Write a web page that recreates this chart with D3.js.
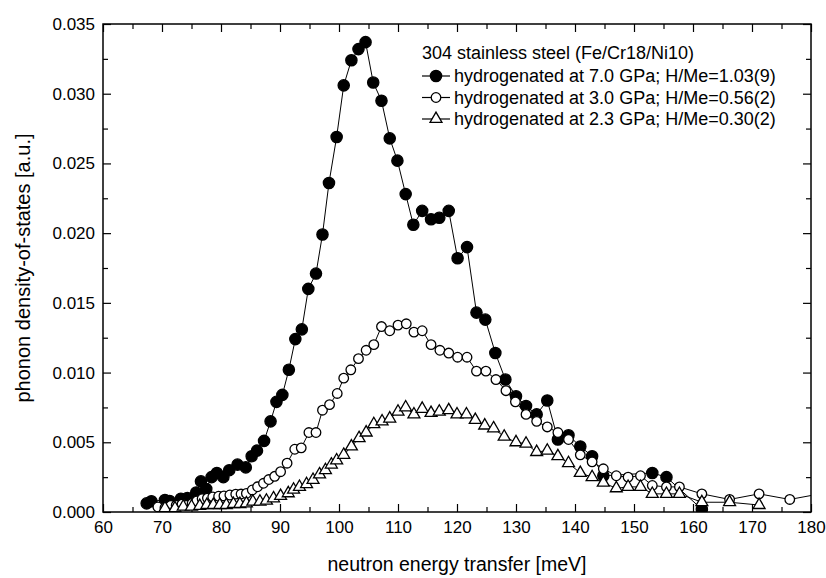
<!DOCTYPE html>
<html>
<head>
  <meta charset="utf-8">
  <title>Phonon density of states - 304 stainless steel</title>
  <script src="https://d3js.org/d3.v7.min.js"></script>
  <style>
    body { margin: 0; background: #fff; }
    text { font-family: "Liberation Sans", Arial, sans-serif; fill: #000; }
  </style>
</head>
<body>
  <div id="chart"></div>

  <script>
    // Sample hydrogenated at 7.0 GPa (filled circles)
    const energy7 = [67.4, 68.2, 70.5, 71.3, 73.2, 74.3, 75.8, 76.6, 77.5, 78.4, 79.3, 80.4, 81.4, 82.8, 84.2, 85.2,
      86.1, 87.3, 88.4, 89.4, 90.4, 91.5, 92.6, 93.7, 94.8, 96.1, 97.2, 98.3, 99.6, 100.8, 102.1, 103.3, 104.5,
      105.8, 107.2, 108.6, 109.9, 111.3, 112.6, 114.1, 115.6, 117.0, 118.6, 120.1, 121.7, 123.3, 124.8, 126.5,
      128.2, 130.0, 131.7, 133.5, 135.3, 137.1, 138.9, 140.9, 142.9, 144.8, 153.1, 155.5, 161.5];
    const dos7 = [0.00062, 0.00077, 0.00086, 0.00079, 0.00095, 0.0010, 0.0014, 0.0022, 0.00165, 0.0025, 0.0028, 0.0025,
      0.0030, 0.0034, 0.0032, 0.0040, 0.0044, 0.0051, 0.0065, 0.0079, 0.0084, 0.0102, 0.0124, 0.0131, 0.0160, 0.0171,
      0.0199, 0.0236, 0.0269, 0.0306, 0.0324, 0.0332, 0.0337, 0.0308, 0.0295, 0.0268, 0.0252, 0.0228, 0.0206, 0.0216,
      0.0210, 0.0211, 0.0216, 0.0182, 0.0190, 0.0143, 0.0138, 0.0114, 0.0095, 0.0083, 0.0076, 0.0070, 0.0080, 0.0052,
      0.0055, 0.0047, 0.0040, 0.0026, 0.0028, 0.0025, 0.0002];

    // Sample hydrogenated at 3.0 GPa (open circles)
    const energy3 = [69.3, 70.5, 71.5, 72.4, 73.4, 74.2, 75.1, 75.9, 76.8, 77.7, 78.6, 79.6, 80.5, 81.5, 82.5, 83.4,
      84.3, 85.3, 86.2, 87.2, 88.1, 89.1, 90.1, 91.2, 92.5, 93.6, 94.9, 96.1, 97.2, 98.4, 99.7, 100.8, 102.0, 103.3,
      104.6, 105.9, 107.2, 108.6, 110.0, 111.4, 112.7, 114.1, 115.6, 117.1, 118.6, 120.1, 121.7, 123.3, 124.9, 126.6,
      128.3, 129.9, 131.7, 133.5, 135.3, 137.1, 138.9, 140.9, 142.9, 144.8, 147.0, 149.0, 151.1, 153.1, 155.5, 157.7,
      161.5, 166.2, 171.2, 176.4, 181.5];
    const dos3 = [0.00036, 0.0003, 0.00047, 0.00047, 0.00057, 0.00047, 0.00061, 0.00079, 0.00095, 0.0010, 0.00108,
      0.00113, 0.00115, 0.00122, 0.00128, 0.00129, 0.00133, 0.00158, 0.00181, 0.00206, 0.00233, 0.00256, 0.00289,
      0.0035, 0.0045, 0.0046, 0.0057, 0.0057, 0.0073, 0.0077, 0.0085, 0.0096, 0.0102, 0.0110, 0.0116, 0.0120, 0.0133,
      0.0130, 0.0134, 0.0135, 0.0129, 0.0130, 0.0120, 0.0116, 0.0114, 0.0111, 0.0111, 0.0101, 0.0101, 0.0095, 0.0087,
      0.0079, 0.0070, 0.0065, 0.0061, 0.0057, 0.0052, 0.0041, 0.0036, 0.0031, 0.0026, 0.0025, 0.0026, 0.0019, 0.0018,
      0.0018, 0.0013, 0.0009, 0.0013, 0.0009, 0.0013];

    // Sample hydrogenated at 2.3 GPa (open triangles)
    const energy23 = [70.5, 72.2, 73.6, 75.0, 76.4, 77.6, 78.7, 79.8, 80.9, 82.1, 83.2, 84.3, 85.4, 86.6, 87.7, 88.9,
      90.1, 91.4, 92.3, 93.3, 94.5, 95.6, 96.7, 97.7, 98.7, 99.6, 100.8, 102.1, 103.4, 104.6, 105.9, 107.3, 108.6,
      110.0, 111.3, 112.7, 114.1, 115.6, 117.0, 118.6, 120.0, 121.6, 123.1, 124.7, 126.2, 128.0, 130.0, 131.7, 133.5,
      135.3, 137.1, 138.9, 140.9, 142.9, 144.8, 147.0, 149.0, 151.1, 153.1, 155.5, 157.7, 161.5, 166.2, 171.2];
    const dos23 = [0.00027, 0.00027, 0.00038, 0.00038, 0.00043, 0.0005, 0.0005, 0.0005, 0.0005, 0.00057, 0.00057,
      0.00062, 0.00074, 0.00074, 0.00081, 0.00098, 0.00115, 0.00134, 0.0016, 0.0018, 0.0020, 0.0023, 0.0027, 0.0030,
      0.0034, 0.0037, 0.0041, 0.0047, 0.0053, 0.0057, 0.0063, 0.0065, 0.0067, 0.0072, 0.0075, 0.0070, 0.0074, 0.0071,
      0.0072, 0.0073, 0.0070, 0.0070, 0.0066, 0.0062, 0.0060, 0.0054, 0.0050, 0.0049, 0.0043, 0.0044, 0.0040, 0.0035,
      0.0028, 0.0025, 0.0021, 0.0017, 0.0018, 0.0018, 0.0013, 0.0013, 0.0013, 0.0007, 0.0007, 0.0005];

    const legendTitle = "304 stainless steel (Fe/Cr18/Ni10)";
    const seriesLabels = [
      "hydrogenated at 7.0 GPa; H/Me=1.03(9)",
      "hydrogenated at 3.0 GPa; H/Me=0.56(2)",
      "hydrogenated at 2.3 GPa; H/Me=0.30(2)"
    ];
    const xMajorTicks = [60, 70, 80, 90, 100, 110, 120, 130, 140, 150, 160, 170, 180];
    const xMinorTicks = [65, 75, 85, 95, 105, 115, 125, 135, 145, 155, 165, 175];
    const yMajorTicks = [0, 0.005, 0.010, 0.015, 0.020, 0.025, 0.030, 0.035];
    const yMinorTicks = [0.0025, 0.0075, 0.0125, 0.0175, 0.0225, 0.0275, 0.0325];

    const W = 826, H = 578;
    const margin = { top: 24, right: 15, bottom: 66, left: 103 };
    const width = W - margin.left - margin.right,
          height = H - margin.top - margin.bottom;

    const svg = d3.select("#chart")
                  .append("svg")
                  .attr("width", W)
                  .attr("height", H);

    const g = svg.append("g")
                 .attr("transform", "translate(" + margin.left + "," + margin.top + ")");

    const x = d3.scaleLinear().domain([60, 180]).range([0, width]);
    const y = d3.scaleLinear().domain([0, 0.035]).range([height, 0]);

    // clip so points past 180 meV are cut at the frame
    svg.append("defs").append("clipPath").attr("id", "plotclip")
       .append("rect").attr("width", width).attr("height", height);

    // axes with inward ticks
    const fmtY = d3.format(".3f");
    function styleAxis(sel) {
      sel.select(".domain").remove();
      sel.selectAll("line").attr("stroke", "#000").attr("stroke-width", 1.2);
      sel.selectAll("text").attr("font-size", 17).attr("font-family", "Liberation Sans, Arial, sans-serif");
    }

    g.append("g").attr("transform", "translate(0," + height + ")")
     .call(d3.axisBottom(x).tickValues(xMajorTicks).tickSize(-8).tickPadding(9).tickFormat(d3.format("d")))
     .call(styleAxis);
    g.append("g").attr("transform", "translate(0," + height + ")")
     .call(d3.axisBottom(x).tickValues(xMinorTicks).tickSize(-5).tickFormat(""))
     .call(styleAxis);
    g.append("g")
     .call(d3.axisTop(x).tickValues(xMajorTicks).tickSize(-8).tickFormat(""))
     .call(styleAxis);
    g.append("g")
     .call(d3.axisTop(x).tickValues(xMinorTicks).tickSize(-5).tickFormat(""))
     .call(styleAxis);

    g.append("g")
     .call(d3.axisLeft(y).tickValues(yMajorTicks).tickSize(-8).tickPadding(8).tickFormat(fmtY))
     .call(styleAxis);
    g.append("g")
     .call(d3.axisLeft(y).tickValues(yMinorTicks).tickSize(-5).tickFormat(""))
     .call(styleAxis);
    g.append("g").attr("transform", "translate(" + width + ",0)")
     .call(d3.axisRight(y).tickValues(yMajorTicks).tickSize(-8).tickFormat(""))
     .call(styleAxis);
    g.append("g").attr("transform", "translate(" + width + ",0)")
     .call(d3.axisRight(y).tickValues(yMinorTicks).tickSize(-5).tickFormat(""))
     .call(styleAxis);

    // frame
    g.append("rect")
     .attr("width", width).attr("height", height)
     .attr("fill", "none").attr("stroke", "#000").attr("stroke-width", 1.5);

    // axis titles
    svg.append("text")
       .attr("x", margin.left + width / 2)
       .attr("y", 571)
       .attr("text-anchor", "middle")
       .attr("font-size", 19.5)
       .text("neutron energy transfer [meV]");

    svg.append("text")
       .attr("transform", "translate(30," + (margin.top + height / 2) + ") rotate(-90)")
       .attr("text-anchor", "middle")
       .attr("font-size", 20)
       .text("phonon density-of-states [a.u.]");

    // series
    const series = [
      { xs: energy7, ys: dos7, symbol: d3.symbolCircle, size: 100, fill: "#000" },
      { xs: energy3, ys: dos3, symbol: d3.symbolCircle, size: 72, fill: "#fff" },
      { xs: energy23, ys: dos23, symbol: d3.symbolTriangle, size: 62, fill: "#fff" }
    ];

    const line = d3.line().x(d => x(d[0])).y(d => y(d[1]));
    const plot = g.append("g").attr("clip-path", "url(#plotclip)");

    series.forEach(s => {
      const pts = s.xs.map((e, i) => [e, s.ys[i]]);
      plot.append("path")
          .datum(pts)
          .attr("d", line)
          .attr("fill", "none")
          .attr("stroke", "#000")
          .attr("stroke-width", 1);
      plot.selectAll(null)
          .data(pts)
          .enter()
          .append("path")
          .attr("d", d3.symbol().type(s.symbol).size(s.size))
          .attr("transform", d => "translate(" + x(d[0]) + "," + y(d[1]) + ")")
          .attr("fill", s.fill)
          .attr("stroke", "#000")
          .attr("stroke-width", 1.3);
    });

    // legend
    const leg = svg.append("g").attr("transform", "translate(422,0)");
    leg.append("text")
       .attr("x", 0).attr("y", 59)
       .attr("font-size", 18)
       .text(legendTitle);

    series.forEach((s, i) => {
      const cy = 76 + i * 21.5;
      leg.append("line")
         .attr("x1", 0).attr("x2", 28)
         .attr("y1", cy).attr("y2", cy)
         .attr("stroke", "#000").attr("stroke-width", 1.2);
      leg.append("path")
         .attr("d", d3.symbol().type(s.symbol).size(s.size))
         .attr("transform", "translate(14," + cy + ")")
         .attr("fill", s.fill)
         .attr("stroke", "#000")
         .attr("stroke-width", 1.3);
      leg.append("text")
         .attr("x", 32).attr("y", cy)
         .attr("dy", "0.35em")
         .attr("font-size", 18)
         .text(seriesLabels[i]);
    });
  </script>
</body>
</html>
